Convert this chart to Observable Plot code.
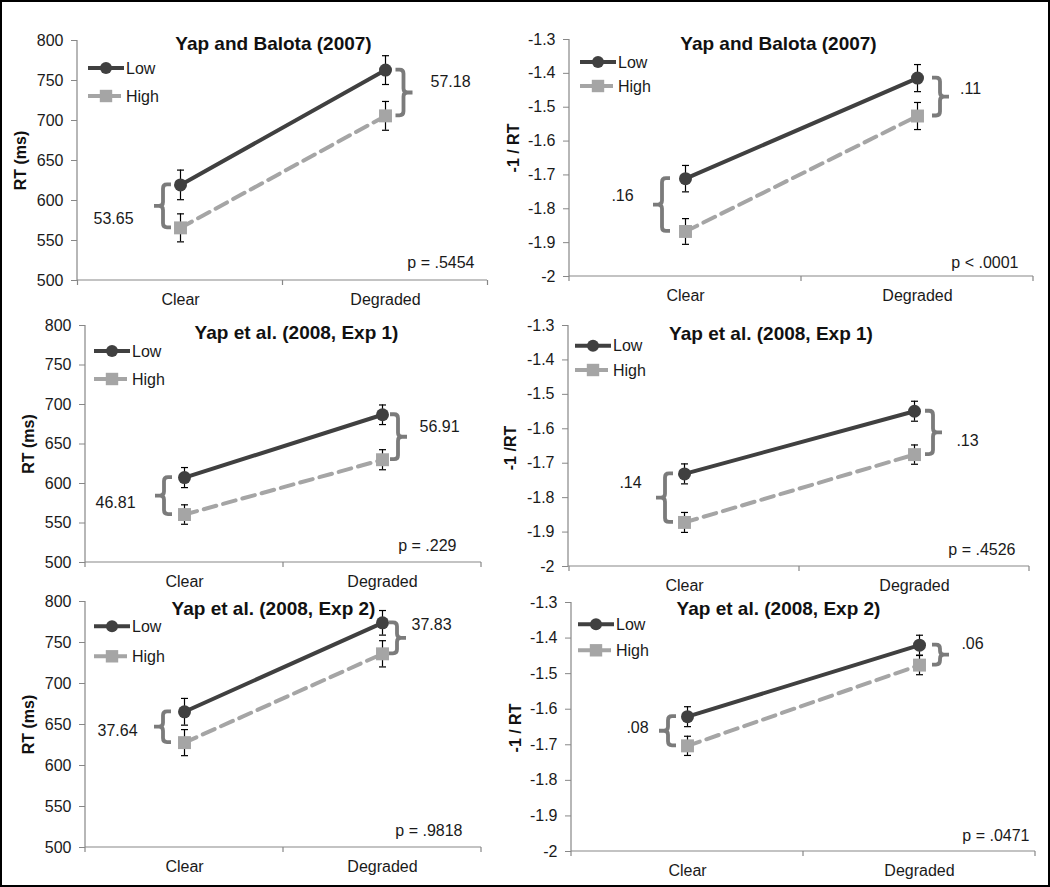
<!DOCTYPE html>
<html><head><meta charset="utf-8">
<script src="https://cdn.jsdelivr.net/npm/d3@7"></script>
<script src="https://cdn.jsdelivr.net/npm/@observablehq/plot@0.6"></script>
<style>
body{margin:0;background:#fff}
#wrap{position:relative;width:1050px;height:887px;overflow:hidden;background:#fff}
#border{position:absolute;left:0;top:0;width:1050px;height:887px;box-sizing:border-box;border:2px solid #000;pointer-events:none;z-index:10}
.panel{position:absolute}
</style></head><body><div id="wrap"><div id="border"></div></div>
<script>
// ---------- data ----------
const conditions = ["Clear", "Degraded"];
const series = ["Low", "High"];
const titles = ["Yap and Balota (2007)", "Yap and Balota (2007)", "Yap et al. (2008, Exp 1)", "Yap et al. (2008, Exp 1)", "Yap et al. (2008, Exp 2)", "Yap et al. (2008, Exp 2)"];
const yLabels = ["RT (ms)", "-1 / RT", "RT (ms)", "-1 /RT", "RT (ms)", "-1 / RT"];
const isRT = [true, false, true, false, true, false];
const lowMeans  = [[619.5, 763.0], [-1.711, -1.414], [607.5, 687.0], [-1.731, -1.549], [665.5, 774.0], [-1.621, -1.420]];
const highMeans = [[565.8, 705.8], [-1.867, -1.526], [560.7, 630.1], [-1.872, -1.675], [627.9, 736.2], [-1.703, -1.476]];
const lowErr  = [[18.5, 18.0], [0.039, 0.040], [12.7, 12.4], [0.029, 0.029], [16.3, 15.0], [0.028, 0.028]];
const highErr = [[17.5, 18.0], [0.038, 0.040], [12.3, 12.7], [0.029, 0.028], [15.9, 16.0], [0.027, 0.027]];
const diffLabels = [["53.65", "57.18"], [".16", ".11"], ["46.81", "56.91"], [".14", ".13"], ["37.64", "37.83"], [".08", ".06"]];
const pLabels = ["p = .5454", "p < .0001", "p = .229", "p = .4526", "p = .9818", "p = .0471"];
const rtDomain = [500, 800];
const invDomain = [-2, -1.3];
const rtTicks = [500, 550, 600, 650, 700, 750, 800];
const invTicks = [-2, -1.9, -1.8, -1.7, -1.6, -1.5, -1.4, -1.3];

// ---------- layout (pixels) ----------
const layout = [
  {left:0,   top:0,   height:310, mL:77, mR:38, mT:40, mB:30, title:[-9,3],  leg:[11,28,56],   ylab:[-57,0],  dL:[-67,12], dR:[65,-11], p:[-13,-18], brk:[-17,18.5]},
  {left:525, top:0,   height:310, mL:44, mR:17, mT:39, mB:34, title:[-23,4], leg:[11,23,47],   ylab:[-56,-10],dL:[-63,-9], dR:[53,-8],  p:[-15,-14], brk:[-23,23]},
  {left:0,   top:290, height:300, mL:85, mR:44, mT:35, mB:28, title:[13,7],  leg:[9,26,54],    ylab:[-57,0],  dL:[-69,7],  dR:[57,-10], p:[-25,-17], brk:[-20,16]},
  {left:525, top:290, height:300, mL:43, mR:21, mT:35, mB:24, title:[-28,8], leg:[7,20.7,45],  ylab:[-58,2],  dL:[-54,-15],dR:[53,8],   p:[-14,-17], brk:[-19,19]},
  {left:0,   top:580, height:307, mL:85, mR:44, mT:21, mB:40, title:[-10,7.5],leg:[9,25.3,55.3],ylab:[-57,0], dL:[-67,4],  dR:[49,-13], p:[-19,-17], brk:[-21,15]},
  {left:525, top:580, height:307, mL:46, mR:15, mT:22, mB:36, title:[-25,6.5],leg:[7,22.3,48.3],ylab:[-56,1], dL:[-50,-3],  dR:[53,-11], p:[-6,-16],  brk:[-19,21]}
];

const FONT = "'Liberation Sans', Arial, Helvetica, sans-serif";
const textColor = "#1a1a1a";
const axisColor = "#878787";
const lowColor = "#404040";
const highColor = "#a5a5a5";
const braceColor = "#7b7b7b";
const dash = "13,7";

const capSymbol = {draw(ctx, size) { const w = Math.sqrt(size / Math.PI); ctx.moveTo(-w, 0); ctx.lineTo(w, 0); }};

function bracePath(xv, y1, y2, dir, arm, nub, r) {
  const ym = (y1 + y2) / 2;
  return `M${xv + dir * arm},${y1}H${xv + dir * r}Q${xv},${y1} ${xv},${y1 + r}V${ym - r}Q${xv},${ym} ${xv - dir * r},${ym}H${xv - dir * nub}` +
         `M${xv - dir * r},${ym}Q${xv},${ym} ${xv},${ym + r}V${y2 - r}Q${xv},${y2} ${xv + dir * r},${y2}H${xv + dir * arm}`;
}

function decor(L, i, yDom) {
  return (index, scales, values, dim) => {
    const x = scales.x, y = scales.y;
    const g = d3.create("svg:g");
    const left = dim.marginLeft, right = dim.width - dim.marginRight;
    const yTop = y(yDom[1]), yBot = y(yDom[0]);
    // axis lines
    g.append("line").attr("x1", left).attr("x2", left).attr("y1", yTop).attr("y2", yBot)
      .attr("stroke", axisColor).attr("stroke-width", 1.2);
    g.append("line").attr("x1", left).attr("x2", right).attr("y1", yBot).attr("y2", yBot)
      .attr("stroke", axisColor).attr("stroke-width", 1.2);
    // category boundary ticks
    const step = Math.abs(x(conditions[1]) - x(conditions[0]));
    const edges = [x(conditions[0]) - step / 2, ...conditions.map(c => x(c) + step / 2)];
    for (const e of edges) {
      g.append("line").attr("x1", e).attr("x2", e).attr("y1", yBot).attr("y2", yBot + 5)
        .attr("stroke", axisColor).attr("stroke-width", 1.2);
    }
    // braces
    conditions.forEach((c, j) => {
      const off = L.brk[j];
      const dir = j === 0 ? 1 : -1;
      const xv = x(c) + off;
      const y1 = y(lowMeans[i][j]), y2 = y(highMeans[i][j]);
      g.append("path").attr("d", bracePath(xv, Math.min(y1, y2), Math.max(y1, y2), dir, 8, 9, 4))
        .attr("fill", "none").attr("stroke", braceColor).attr("stroke-width", 3.8);
    });
    // legend
    const lx = left + L.leg[0];
    series.forEach((s, k) => {
      const ly = dim.marginTop + L.leg[k + 1];
      const col = s === "Low" ? lowColor : highColor;
      g.append("line").attr("x1", lx).attr("x2", lx + 36).attr("y1", ly).attr("y2", ly)
        .attr("stroke", col).attr("stroke-width", 4).attr("stroke-dasharray", s === "Low" ? null : dash);
      if (s === "Low") g.append("circle").attr("cx", lx + 18).attr("cy", ly).attr("r", 6).attr("fill", col);
      else g.append("rect").attr("x", lx + 18 - 6.2).attr("y", ly - 6.2).attr("width", 12.4).attr("height", 12.4).attr("fill", col);
      g.append("text").attr("x", lx + 38).attr("y", ly).attr("dy", "0.35em").attr("font-size", 16)
        .attr("text-anchor", "start").attr("fill", textColor).attr("font-family", FONT).text(s);
    });
    return g.node();
  };
}

const wrap = document.getElementById("wrap");

layout.forEach((L, i) => {
  const rows = series.flatMap(s => conditions.map((c, j) => ({
    series: s, cond: c,
    v: s === "Low" ? lowMeans[i][j] : highMeans[i][j],
    e: s === "Low" ? lowErr[i][j] : highErr[i][j]
  })));
  const yDom = isRT[i] ? rtDomain : invDomain;
  const ticks = isRT[i] ? rtTicks : invTicks;
  const fmt = isRT[i] ? (d => String(d)) : (d => String(Math.round(d * 10) / 10));
  const low = rows.filter(d => d.series === "Low");
  const high = rows.filter(d => d.series === "High");
  const caps = rows.flatMap(d => [{cond: d.cond, y: d.v - d.e}, {cond: d.cond, y: d.v + d.e}]);
  const diffRows = conditions.map((c, j) => ({cond: c, mid: (lowMeans[i][j] + highMeans[i][j]) / 2, label: diffLabels[i][j]}));

  const plot = Plot.plot({
    width: 525, height: L.height,
    marginLeft: L.mL, marginRight: L.mR, marginTop: L.mT, marginBottom: L.mB,
    x: {type: "point", domain: conditions, padding: 0.5, label: null},
    y: {domain: yDom, label: null},
    style: {overflow: "visible", background: "transparent", fontFamily: FONT, color: textColor},
    marks: [
      decor(L, i, yDom),
      Plot.axisY({ticks, tickSize: 6, tickPadding: 8, tickFormat: fmt, fontSize: 16, stroke: axisColor, fill: textColor, label: null}),
      Plot.axisX({tickSize: 0, tickPadding: 13, fontSize: 16, fill: textColor, label: null}),
      Plot.line(high, {x: "cond", y: "v", stroke: highColor, strokeWidth: 4, strokeDasharray: dash}),
      Plot.line(low, {x: "cond", y: "v", stroke: lowColor, strokeWidth: 4}),
      Plot.ruleX(rows, {x: "cond", y1: d => d.v - d.e, y2: d => d.v + d.e, stroke: "#000", strokeWidth: 1.2}),
      Plot.dot(caps, {x: "cond", y: "y", symbol: capSymbol, r: 3.5, fill: "none", stroke: "#000", strokeWidth: 1.2}),
      Plot.dot(high, {x: "cond", y: "v", symbol: "square", r: 7.3, fill: highColor, stroke: "none"}),
      Plot.dot(low, {x: "cond", y: "v", symbol: "circle", r: 6.5, fill: lowColor, stroke: "none"}),
      Plot.text([titles[i]], {text: d => d, frameAnchor: "top", lineAnchor: "middle", textAnchor: "middle", dx: L.title[0], dy: L.title[1], fontSize: 19, fontWeight: "bold", fill: "#111"}),
      Plot.text([yLabels[i]], {text: d => d, frameAnchor: "left", lineAnchor: "middle", textAnchor: "middle", rotate: -90, dx: L.ylab[0], dy: L.ylab[1], fontSize: 16, fontWeight: "bold", fill: "#111"}),
      Plot.text([diffRows[0]], {x: "cond", y: "mid", text: "label", lineAnchor: "middle", textAnchor: "middle", dx: L.dL[0], dy: L.dL[1], fontSize: 16, fill: textColor}),
      Plot.text([diffRows[1]], {x: "cond", y: "mid", text: "label", lineAnchor: "middle", textAnchor: "middle", dx: L.dR[0], dy: L.dR[1], fontSize: 16, fill: textColor}),
      Plot.text([pLabels[i]], {text: d => d, frameAnchor: "bottom-right", lineAnchor: "middle", textAnchor: "end", dx: L.p[0], dy: L.p[1], fontSize: 16, fill: textColor})
    ]
  });
  const div = document.createElement("div");
  div.className = "panel";
  div.style.left = L.left + "px";
  div.style.top = L.top + "px";
  div.appendChild(plot);
  wrap.appendChild(div);
});
</script>
</body></html>
